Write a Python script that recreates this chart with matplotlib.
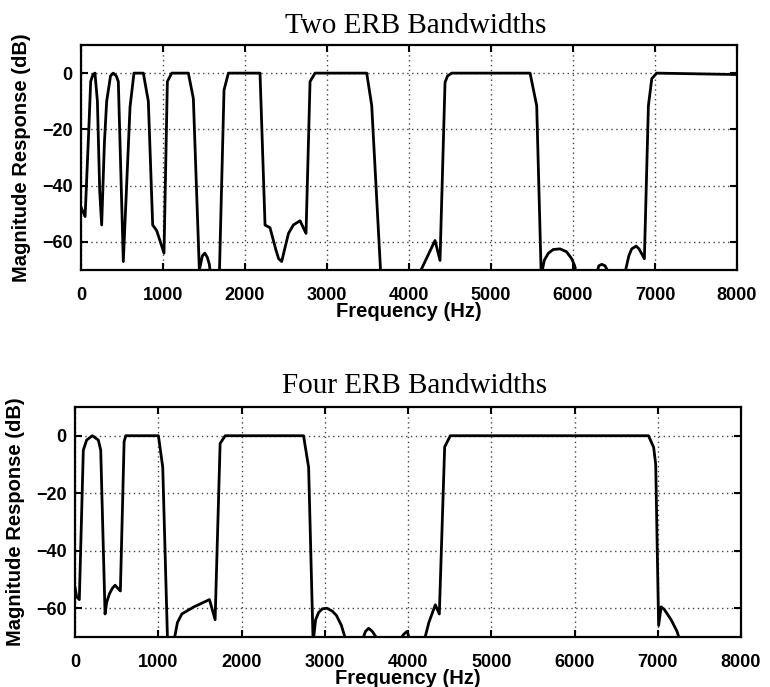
import matplotlib
matplotlib.use('Agg')
import matplotlib.pyplot as plt

# Two ERB bandwidths - frequency (Hz) and magnitude (dB)
two_freq = [5, 50, 95, 118, 145, 170, 200, 228, 252, 285, 313, 360, 394, 430, 455, 516,
            598, 646, 760, 821, 874, 923, 1012, 1053, 1106, 1309, 1370, 1443, 1480, 1510,
            1540, 1565, 1581, 1600, 1670, 1687, 1744, 1797, 2183, 2244, 2305, 2378, 2410, 2447,
            2480, 2530, 2589, 2671, 2744, 2793, 2854, 3484, 3545, 3656, 3700, 4080, 4114,
            4317, 4378, 4439, 4470, 4520, 5476, 5557, 5612, 5650, 5700, 5760, 5841, 5920,
            5984, 6020, 6047, 6100, 6250, 6280, 6315, 6350, 6390, 6453, 6500, 6600, 6626,
            6680, 6715, 6770, 6805, 6870, 6919, 6960, 7020, 8000]
two_db = [-48, -51, -20, -3, -0.5, 0, -10, -42, -54, -25, -10, -1, 0, -1, -3, -67,
          -12, 0, 0, -10, -54, -56, -64, -3, 0, 0, -9, -70, -65, -64,
          -65.5, -68, -72, -90, -90, -72, -6, 0, 0, -54, -55, -63, -66, -67,
          -63, -57, -54, -52.5, -57, -3, 0, 0, -11.5, -72, -90, -90, -72,
          -59.5, -66.6, -3.3, -1, 0, 0, -11.6, -72, -66.5, -64, -62.7, -62.5, -63.5,
          -66, -68.5, -72, -90, -90, -72, -68.5, -68, -68.5, -72, -90, -90, -72,
          -65, -62.5, -61.5, -62.5, -66, -11.6, -2, 0, -0.5]

# Four ERB bandwidths
four_freq = [0, 20, 52, 100, 140, 208, 280, 309, 361, 380, 413, 450, 481, 545, 590, 610, 1002,
             1054, 1112, 1140, 1170, 1185, 1230, 1283, 1423, 1615, 1683, 1743, 1804, 2745,
             2806, 2860, 2890, 2926, 2970, 3026, 3090, 3140, 3166, 3200, 3262, 3300, 3400,
             3440, 3490, 3527, 3570, 3615, 3650, 3700, 3860, 3900, 3950, 3990, 4030, 4100,
             4160, 4188, 4250, 4300, 4328, 4376, 4440, 4508, 6888, 6950, 6975, 7010, 7040,
             7080, 7160, 7230, 7275]
four_db = [-52.7, -56, -57, -5, -1.5, 0, -1.5, -5, -62, -58, -55, -53, -52, -54, -2, 0, 0,
           -11, -72, -90, -90, -72, -65, -62, -59.6, -57, -64, -2.7, 0, 0,
           -11, -72, -64, -61.5, -60.2, -60, -61, -62.5, -64, -66, -72, -90, -90,
           -72, -68, -67, -68, -70, -72, -90, -90, -71, -69, -68, -72, -90,
           -90, -72, -65, -61, -58.8, -62, -3.9, 0, 0, -4, -10, -66, -59.5,
           -60.5, -64, -68, -72]

xticks = [0, 1000, 2000, 3000, 4000, 5000, 6000, 7000, 8000]
yticks = [-60, -40, -20, 0]

plt.rcParams['font.family'] = 'Liberation Sans'

fig = plt.figure(figsize=(7.7, 6.87), dpi=100)

ax1 = fig.add_axes([0.1052, 0.607, 0.852, 0.3275])
ax2 = fig.add_axes([0.0974, 0.0728, 0.865, 0.3348])

panels = [(ax1, two_freq, two_db, 'Two ERB Bandwidths', 8.5),
          (ax2, four_freq, four_db, 'Four ERB Bandwidths', 10)]

for ax, f, db, title, pad in panels:
    ax.plot(f, db, color='black', linewidth=2.0, solid_joinstyle='round')
    ax.set_xlim(0, 8000)
    ax.set_ylim(-70, 10)
    ax.set_xticks(xticks)
    ax.set_yticks(yticks)
    ax.set_xticklabels([str(t) for t in xticks], fontweight='bold', fontsize=13)
    ax.set_yticklabels([str(t).replace('-', '\u2212') for t in yticks], fontweight='bold', fontsize=13)
    ax.grid(True, linestyle=(0, (1, 2.5)), color='#444444', linewidth=1.0)
    ax.tick_params(direction='in', length=5, width=1.5, top=True, right=True)
    ax.tick_params(axis='x', pad=12)
    ax.tick_params(axis='y', pad=6)
    for s in ax.spines.values():
        s.set_linewidth(1.6)
    ax.set_xlabel('Frequency (Hz)', fontweight='bold', fontsize=14.5, labelpad=-1)
    ax.set_ylabel('Magnitude Response (dB)', fontweight='bold', fontsize=14.5, labelpad=8)
    ax.set_title(title, family='Liberation Serif', fontsize=21, pad=pad, x=0.51)

plt.savefig('out.png', dpi=100)
